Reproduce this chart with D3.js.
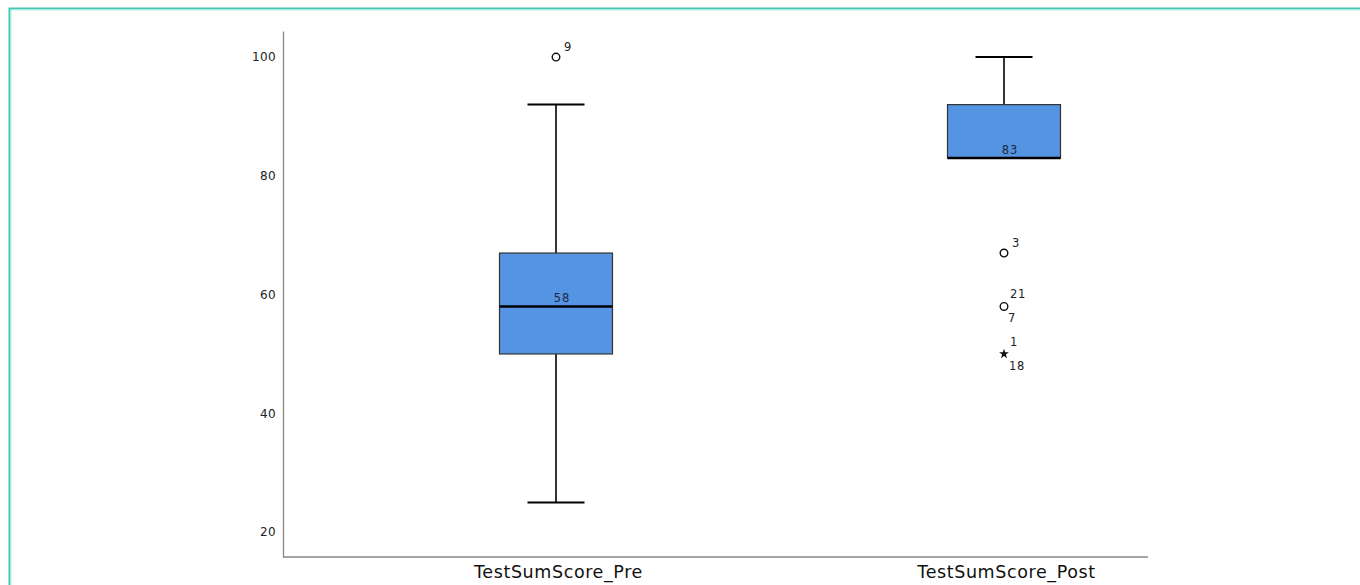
<!DOCTYPE html>
<html>
<head>
<meta charset="utf-8">
<script src="https://cdn.jsdelivr.net/npm/d3@7"></script>
<style>
  html, body { margin: 0; padding: 0; background: #fff; }
  svg { display: block; }
</style>
</head>
<body>
<svg id="chart" width="1360" height="585"></svg>
<script>
// Box plot summaries for each test score variable
const categories = ["TestSumScore_Pre", "TestSumScore_Post"];
const whiskerLow = [25, 83];
const q1 = [50, 83];
const median = [58, 83];
const q3 = [67, 92];
const whiskerHigh = [92, 100];
const yTicks = [20, 40, 60, 80, 100];

// Outliers: [category index, value, case labels, kind]
const outlierCat = [0, 1, 1, 1];
const outlierVal = [100, 67, 58, 50];
const outlierIds = [["9"], ["3"], ["21", "7"], ["1", "18"]];
const outlierKind = ["circle", "circle", "circle", "star"];

const svg = d3.select("#chart");

// Thin frame along the top and left edges
svg.append("path")
  .attr("d", "M9.5,585 V8.5 H1360")
  .attr("fill", "none").attr("stroke", "#3fc9b2").attr("stroke-width", 2);
svg.append("path")
  .attr("d", "M11,585 V10 H1360")
  .attr("fill", "none").attr("stroke", "#b9ece3").attr("stroke-width", 1);

const plotLeft = 283, plotRight = 1148, plotBottom = 557, plotTop = 31;
const x = d3.scalePoint().domain(categories).range([556, 1004]);
const y = d3.scaleLinear().domain([15.8, 104.4]).range([plotBottom, plotTop]);

// Axes
const yAxis = d3.axisLeft(y).tickValues(yTicks).tickSize(0).tickPadding(7);
const gy = svg.append("g").attr("transform", `translate(${plotLeft},0)`).call(yAxis);
gy.select(".domain").attr("stroke", "#888").attr("stroke-width", 1.3);
gy.selectAll("text").attr("font-family", "DejaVu Sans").attr("font-size", 12)
  .attr("letter-spacing", 0.4).attr("fill", "#222");

const xAxis = d3.axisBottom(x).tickSize(0).tickPadding(9);
const gx = svg.append("g").attr("transform", `translate(0,${plotBottom})`).call(xAxis);
gx.select(".domain").remove();
gx.selectAll("text").attr("font-family", "DejaVu Sans").attr("font-size", 17.5)
  .attr("letter-spacing", 0.6).attr("fill", "#111")
  .attr("dx", (d, i) => i === 0 ? 2 : 2);
svg.append("line").attr("x1", plotLeft).attr("x2", plotRight)
  .attr("y1", plotBottom).attr("y2", plotBottom)
  .attr("stroke", "#888").attr("stroke-width", 1.3);

const boxW = 113;
const capW = 57;
const g = svg.append("g");

categories.forEach((c, i) => {
  const cx = x(c);
  // whiskers with caps
  if (whiskerHigh[i] > q3[i]) {
    g.append("line").attr("x1", cx).attr("x2", cx).attr("y1", y(q3[i])).attr("y2", y(whiskerHigh[i]))
      .attr("stroke", "#000").attr("stroke-width", 1.6);
    g.append("line").attr("x1", cx - capW / 2).attr("x2", cx + capW / 2)
      .attr("y1", y(whiskerHigh[i])).attr("y2", y(whiskerHigh[i]))
      .attr("stroke", "#000").attr("stroke-width", 2);
  }
  if (whiskerLow[i] < q1[i]) {
    g.append("line").attr("x1", cx).attr("x2", cx).attr("y1", y(q1[i])).attr("y2", y(whiskerLow[i]))
      .attr("stroke", "#000").attr("stroke-width", 1.6);
    g.append("line").attr("x1", cx - capW / 2).attr("x2", cx + capW / 2)
      .attr("y1", y(whiskerLow[i])).attr("y2", y(whiskerLow[i]))
      .attr("stroke", "#000").attr("stroke-width", 2);
  }
  // box
  g.append("rect")
    .attr("x", cx - boxW / 2).attr("y", y(q3[i]))
    .attr("width", boxW).attr("height", y(q1[i]) - y(q3[i]))
    .attr("fill", "#5594e2").attr("stroke", "#333").attr("stroke-width", 1.2);
  // median line and label
  g.append("line").attr("x1", cx - boxW / 2).attr("x2", cx + boxW / 2)
    .attr("y1", y(median[i])).attr("y2", y(median[i]))
    .attr("stroke", "#000").attr("stroke-width", 2.5);
  g.append("text").attr("x", cx + 6).attr("y", y(median[i]) - 4)
    .attr("text-anchor", "middle").attr("font-family", "DejaVu Sans").attr("font-size", 11.5)
    .attr("letter-spacing", 1).attr("fill", "#1a2a40").text(median[i]);
});

// outliers and extreme values
outlierVal.forEach((v, k) => {
  const cx = x(categories[outlierCat[k]]);
  const cy = y(v);
  if (outlierKind[k] === "circle") {
    g.append("circle").attr("cx", cx).attr("cy", cy).attr("r", 3.8)
      .attr("fill", "none").attr("stroke", "#111").attr("stroke-width", 1.4);
  } else {
    g.append("path").attr("transform", `translate(${cx},${cy})`)
      .attr("d", d3.symbol(d3.symbolStar, 30)()).attr("fill", "#111");
  }
  const ids = outlierIds[k];
  const txt = (s, dx, dy) => g.append("text").attr("x", cx + dx).attr("y", cy + dy)
    .attr("font-family", "DejaVu Sans").attr("font-size", 11.5).attr("letter-spacing", 0.6)
    .attr("fill", "#222").text(s);
  if (ids.length === 1) {
    txt(ids[0], 8, -6);
  } else {
    txt(ids[0], 6, -8);
    txt(ids[1], ids[1].length > 1 ? 5 : 4, 16);
  }
});
</script>
</body>
</html>
